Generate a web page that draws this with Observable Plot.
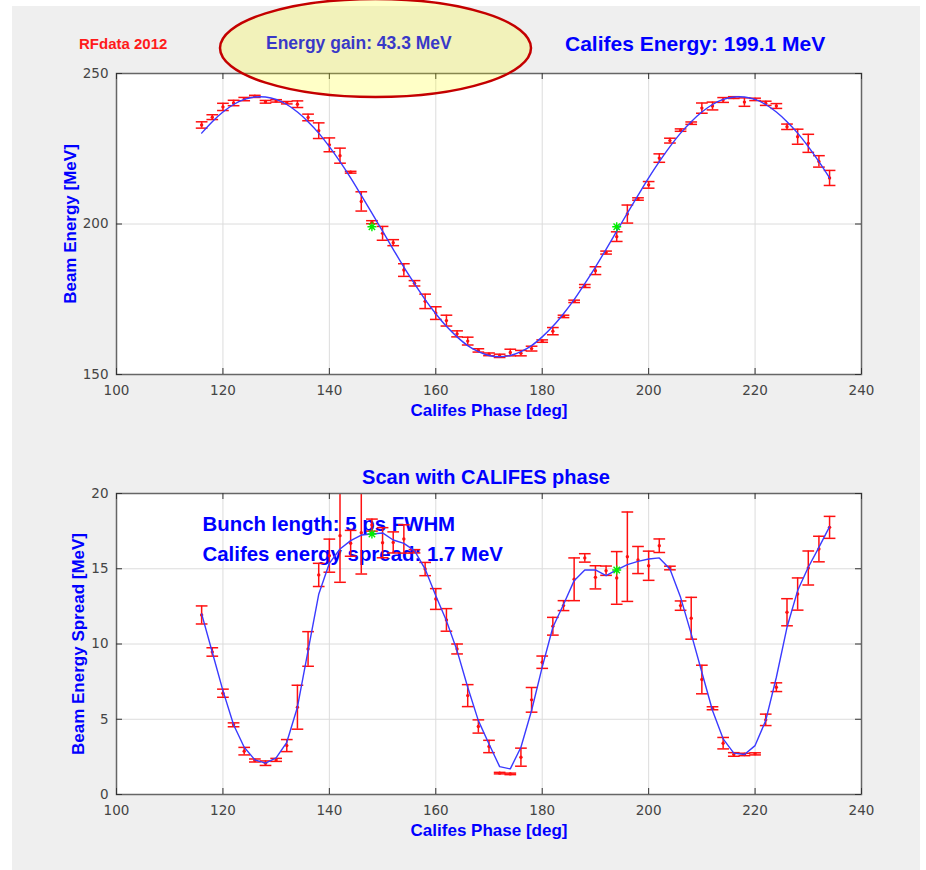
<!DOCTYPE html>
<html>
<head>
<meta charset="utf-8">
<script src="https://cdn.jsdelivr.net/npm/d3@7"></script>
<script src="https://cdn.jsdelivr.net/npm/@observablehq/plot@0.6"></script>
<style>
  html, body { margin: 0; padding: 0; background: #ffffff; }
  #page { position: relative; width: 926px; height: 870px; overflow: hidden; }
  #panel { position: absolute; left: 12px; top: 6px; width: 908px; height: 864px; background: #efefef; }
  .plot-wrap { position: absolute; left: 0; }
  .hdr { position: absolute; font-family: "Liberation Sans", Arial, sans-serif; font-weight: bold;
         white-space: nowrap; line-height: 1; transform: translateY(-50%); }
  #overlay { position: absolute; left: 0; top: 0; pointer-events: none; }
</style>
</head>
<body>
<div id="page">
  <div id="panel"></div>
  <div id="top" class="plot-wrap" style="top:0px"></div>
  <div id="bottom" class="plot-wrap" style="top:440px"></div>
  <div class="hdr" style="left:79px; top:43px; font-size:15px; color:#ff1a1a">RFdata 2012</div>
  <div class="hdr" style="left:266px; top:43.5px; font-size:17.5px; color:#0000ff">Energy gain: 43.3 MeV</div>
  <div class="hdr" style="left:565px; top:43px; font-size:21px; color:#0000ff">Califes Energy: 199.1 MeV</div>
  <svg id="overlay" width="926" height="870"></svg>
</div>
<script>
// RF phase scan of the CALIFES beam: energy and energy spread vs phase.
const phase = [116,118,120,122,124,126,128,130,132,134,136,138,140,142,144,146,148,150,152,154,
               156,158,160,162,164,166,168,170,172,174,176,178,180,182,184,186,188,190,192,194,
               196,198,200,202,204,206,208,210,212,214,216,218,220,222,224,226,228,230,232,234];

// Measured beam energy [MeV] and its error
const energy = [232.9,235.5,238.9,240.2,241.5,242.4,240.6,240.9,240.3,239.8,235.4,231.0,226.3,222.7,217.2,207.5,200.6,196.9,193.8,184.7,
                180.3,174.3,170.4,167.9,163.5,161.1,158.0,156.7,156.2,157.3,157.1,158.6,161.1,164.4,169.3,174.3,179.4,184.5,190.5,195.8,
                203.3,208.3,213.0,221.9,227.7,231.2,233.5,238.5,239.2,241.2,242.0,240.5,241.4,240.1,239.2,232.3,229.0,226.8,220.8,215.3];
const energyErr = [1.05,0.8,1.2,0.9,0.55,0.35,0.45,0.4,0.4,1.1,1.1,2.6,2.3,2.5,0.3,3.2,0.5,2.3,1.0,2.1,
                   0.9,2.4,2.1,1.8,1.0,1.3,0.55,0.45,0.55,1.1,0.9,0.8,0.4,1.2,0.4,0.4,0.5,1.3,0.5,1.6,
                   3.0,0.4,1.1,1.4,0.8,0.4,0.4,1.7,1.3,0.8,0.3,1.4,0.4,0.7,0.8,0.9,2.5,3.0,1.9,2.5];
// Fitted energy curve [MeV]
const energyFit = [230.2,234.0,237.2,239.7,241.4,242.2,242.2,241.4,239.7,237.2,234.0,230.2,225.7,220.7,215.3,209.5,203.6,197.6,191.6,185.7,
                   180.2,174.9,170.2,166.0,162.5,159.6,157.6,156.3,155.9,156.3,157.6,159.6,162.5,166.0,170.2,174.9,180.2,185.7,191.6,197.6,
                   203.6,209.5,215.3,220.7,225.7,230.2,234.0,237.2,239.7,241.4,242.2,242.2,241.4,239.7,237.2,234.0,230.2,225.7,220.7,215.3];

// Measured energy spread [MeV] and its error
const spread = [11.93,9.47,6.73,4.63,2.88,2.26,2.08,2.30,3.25,5.80,9.67,14.59,15.87,17.2,16.69,17.4,17.9,16.73,16.75,16.98,
                16.16,14.98,12.99,11.6,9.67,6.57,4.52,3.19,1.42,1.37,2.48,6.29,8.79,11.18,12.55,14.3,15.72,14.43,14.87,14.39,
                15.8,15.58,15.2,16.53,15.05,12.55,11.71,7.64,5.73,3.41,2.66,2.66,2.7,4.96,7.13,12.11,13.32,15.05,16.31,17.75];
const spreadErr = [0.6,0.28,0.27,0.13,0.25,0.1,0.15,0.1,0.4,1.46,1.15,0.77,1.1,3.1,0.86,2.75,0.4,1.0,0.7,0.94,
                   0.11,0.44,0.69,0.75,0.33,0.73,0.44,0.41,0.05,0.05,0.6,0.82,0.41,0.59,0.33,1.42,0.28,0.77,0.31,1.75,
                   2.97,0.9,0.97,0.45,0.12,0.31,1.39,0.95,0.1,0.38,0.12,0.08,0.07,0.38,0.29,0.9,1.07,1.13,0.85,0.73];
// Model energy spread [MeV]
const spreadFit = [12.0,9.45,6.9,4.63,3.14,2.3,2.08,2.43,3.47,5.8,9.56,13.3,15.36,16.31,16.87,17.24,17.31,17.38,16.91,16.69,
                   16.2,14.98,13.21,11.55,9.56,7.13,4.91,3.36,1.85,1.7,3.14,5.58,8.46,11.11,12.62,14.21,14.92,14.92,14.54,14.92,
                   15.27,15.49,15.65,15.72,14.98,13.1,10.67,8.12,5.58,3.7,2.75,2.66,3.25,4.91,7.79,11.11,13.55,15.1,16.42,17.8];

// Operating points (zero crossings of the energy curve)
const markerPhase = [148, 194];
const markerEnergy = [199.1, 199.1];
const markerSpread = [17.31, 14.92];

const xTicks = [100, 120, 140, 160, 180, 200, 220, 240];
const energyTicks = [150, 200, 250];
const spreadTicks = [0, 5, 10, 15, 20];

const blue = "#0000ff";
const red = "#ff1010";
const labelFont = "'Liberation Sans', Arial, sans-serif";

// MATLAB-style '*' marker: plus and cross combined
const asterisk = {
  draw(ctx, size) {
    const s = Math.sqrt(size / Math.PI), d = s * Math.SQRT1_2;
    ctx.moveTo(-s, 0); ctx.lineTo(s, 0);
    ctx.moveTo(0, -s); ctx.lineTo(0, s);
    ctx.moveTo(-d, -d); ctx.lineTo(d, d);
    ctx.moveTo(-d, d); ctx.lineTo(d, -d);
  }
};

function panel({values, errors, fit, markers, yDomain, yTicks, height, marginTop, marginBottom,
                curve, yLabel, yLabelDx, annotations = []}) {
  const marginLeft = 116, marginRight = 65, width = 926;
  const frameW = width - marginLeft - marginRight;
  const frameH = height - marginTop - marginBottom;
  const rows = phase.map((p, i) => ({p, v: values[i], e: errors[i], f: fit[i]}));
  const stars = markerPhase.map((p, i) => ({p, v: markers[i]}));
  const lo = d => d.v - d.e, hi = d => d.v + d.e;
  const bar = {stroke: red, strokeWidth: 1.5, clip: true};
  return Plot.plot({
    width, height, marginLeft, marginRight, marginTop, marginBottom,
    style: {background: "transparent", overflow: "visible", fontFamily: "'DejaVu Sans', sans-serif", fontSize: "13.5px"},
    x: {domain: [100, 240]},
    y: {domain: yDomain},
    marks: [
      Plot.frame({fill: "white", stroke: "none"}),
      Plot.gridX(xTicks.slice(1, -1), {stroke: "#dcdcdc", strokeOpacity: 1}),
      Plot.gridY(yTicks.slice(1, -1), {stroke: "#dcdcdc", strokeOpacity: 1}),
      ...annotations,
      // error bars with caps
      Plot.ruleX(rows, {x: "p", y1: lo, y2: hi, ...bar}),
      Plot.link(rows, {x1: d => d.p - 1.1, x2: d => d.p + 1.1, y1: lo, y2: lo, ...bar}),
      Plot.link(rows, {x1: d => d.p - 1.1, x2: d => d.p + 1.1, y1: hi, y2: hi, ...bar}),
      Plot.dot(rows, {x: "p", y: "v", r: 1.7, fill: red, stroke: "none"}),
      // fit
      Plot.line(rows, {x: "p", y: "f", stroke: "#3a3aff", strokeWidth: 1.4, curve}),
      // operating points
      Plot.dot(stars, {x: "p", y: "v", symbol: asterisk, r: 4.5, fill: "none", stroke: "#00ee00", strokeWidth: 1.4}),
      // box and inward ticks on all four sides
      Plot.frame({stroke: "#666666", strokeWidth: 1.5, fill: "none"}),
      Plot.tickX(xTicks, {x: d => d, insetTop: frameH - 6, stroke: "#333333"}),
      Plot.tickX(xTicks, {x: d => d, insetBottom: frameH - 6, stroke: "#333333"}),
      Plot.tickY(yTicks, {y: d => d, insetRight: frameW - 6, stroke: "#333333"}),
      Plot.tickY(yTicks, {y: d => d, insetLeft: frameW - 6, stroke: "#333333"}),
      Plot.axisX({ticks: xTicks, tickSize: 0, tickPadding: 11, label: null, fill: "#444444"}),
      Plot.axisY({ticks: yTicks, tickSize: 0, tickPadding: 8, label: null, fill: "#444444"}),
      Plot.text(["Califes Phase [deg]"], {text: d => d, frameAnchor: "bottom", dy: 36, lineAnchor: "middle",
        textAnchor: "middle", fill: blue, fontWeight: "bold", fontSize: 17, fontFamily: labelFont}),
      Plot.text([yLabel], {text: d => d, frameAnchor: "left", rotate: -90, dx: yLabelDx, lineAnchor: "middle",
        textAnchor: "middle", fill: blue, fontWeight: "bold", fontSize: 17, fontFamily: labelFont})
    ]
  });
}

const topPlot = panel({
  values: energy, errors: energyErr, fit: energyFit, markers: markerEnergy,
  yDomain: [150, 250], yTicks: energyTicks,
  height: 440, marginTop: 73, marginBottom: 66,
  curve: "catmull-rom", yLabel: "Beam Energy [MeV]", yLabelDx: -45.5
});
document.getElementById("top").append(topPlot);

const note = {frameAnchor: "top-left", dx: 86, lineAnchor: "middle", textAnchor: "start",
              fill: blue, fontWeight: "bold", fontSize: 20.4, fontFamily: labelFont};

const bottomPlot = panel({
  values: spread, errors: spreadErr, fit: spreadFit, markers: markerSpread,
  yDomain: [0, 20], yTicks: spreadTicks,
  height: 430, marginTop: 53, marginBottom: 76,
  curve: "linear", yLabel: "Beam Energy Spread [MeV]", yLabelDx: -38,
  annotations: [
    Plot.text(["Scan with CALIFES phase"], {text: d => d, frameAnchor: "top", dy: -15.5, dx: -3,
      lineAnchor: "middle", textAnchor: "middle", fill: blue, fontWeight: "bold", fontSize: 20, fontFamily: labelFont}),
    Plot.text(["Bunch length: 5 ps FWHM"], {text: d => d, dy: 30.5, ...note}),
    Plot.text(["Califes energy spread: 1.7 MeV"], {text: d => d, dy: 60.5, ...note})
  ]
});
document.getElementById("bottom").append(bottomPlot);

// Highlight around the energy-gain readout
d3.select("#overlay").append("ellipse")
  .attr("cx", 375.5).attr("cy", 48).attr("rx", 155.5).attr("ry", 49)
  .attr("fill", "#ffff00").attr("fill-opacity", 0.22)
  .attr("stroke", "#c40000").attr("stroke-width", 2.5);
</script>
</body>
</html>
